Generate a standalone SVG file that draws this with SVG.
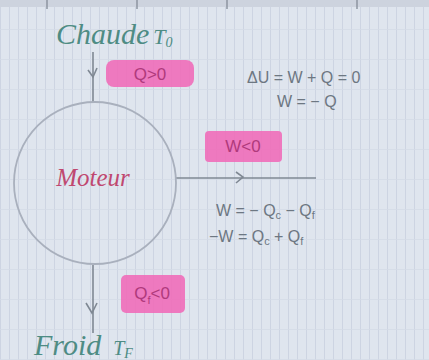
<svg xmlns="http://www.w3.org/2000/svg" width="429" height="360" viewBox="0 0 429 360">
<defs>
<pattern id="grid" width="9" height="30" patternUnits="userSpaceOnUse">
<rect width="9" height="30" fill="#dfe5ee"/>
<line x1="0.5" y1="0" x2="0.5" y2="30" stroke="#cdd4e2" stroke-width="1"/>
<line x1="0" y1="29.5" x2="9" y2="29.5" stroke="#d4dae6" stroke-width="0.8"/>
</pattern>
</defs>
<style>
.hand{font-family:"Liberation Serif",serif;font-style:italic}
.teal{fill:#4e8c84}
.pinktxt{fill:#c04870}
.hl{fill:#ef6db9;opacity:0.9}
.hltxt{font-family:"Liberation Sans",sans-serif;fill:#b03a7c;font-size:17px}
.eq{font-family:"Liberation Sans",sans-serif;fill:#6d7782;font-size:16px}
.line{stroke:#7f8893;stroke-width:1.6;fill:none}
</style>
<rect width="429" height="360" fill="url(#grid)"/>
<rect x="0" y="0" width="429" height="7" fill="#cdd3de"/>
<g stroke="#8c94a0" stroke-width="1.5">
<line x1="47" y1="0" x2="47" y2="9"/>
<line x1="137" y1="0" x2="137" y2="9"/>
<line x1="227" y1="0" x2="227" y2="9"/>
<line x1="357" y1="0" x2="357" y2="9"/>
</g>
<g id="connectors">
<line class="line" x1="93" y1="52" x2="93" y2="102"/>
<path class="line" d="M88,70 L93,77 L97,68"/>
<line class="line" x1="175" y1="178" x2="316" y2="178"/>
<path class="line" d="M236,172 L243,177 L236,183"/>
<line class="line" x1="93" y1="265" x2="93" y2="333"/>
<path class="line" d="M86,303 L92,313 L97,303"/>
</g>
<g id="chaude">
<text class="hand teal" x="56" y="44" font-size="30">Chaude<tspan font-size="22" dx="4">T<tspan font-size="14" dy="3">0</tspan></tspan></text>
</g>
<g id="q-label">
<rect class="hl" x="106" y="60" width="88" height="27" rx="8"/>
<text class="hltxt" x="150" y="80" text-anchor="middle">Q&gt;0</text>
</g>
<g id="moteur">
<circle cx="95" cy="183" r="81" fill="none" stroke="#a9b0bd" stroke-width="1.8"/>
<text class="hand pinktxt" x="93" y="186" font-size="25" text-anchor="middle">Moteur</text>
</g>
<g id="energy">
<text class="eq" x="247" y="83">ΔU = W + Q = 0</text>
<text class="eq" x="277" y="107">W = − Q</text>
</g>
<g id="w-label">
<rect class="hl" x="205" y="131" width="77" height="31" rx="4"/>
<text class="hltxt" x="243" y="152" text-anchor="middle">W&lt;0</text>
</g>
<g id="work-eq">
<text class="eq" x="216" y="216">W = − Q<tspan font-size="11" dy="3">c</tspan><tspan dy="-3"> − Q</tspan><tspan font-size="11" dy="3">f</tspan></text>
<text class="eq" x="209" y="242">−W = Q<tspan font-size="11" dy="3">c</tspan><tspan dy="-3"> + Q</tspan><tspan font-size="11" dy="3">f</tspan></text>
</g>
<g id="qf-label">
<rect class="hl" x="121" y="275" width="64" height="38" rx="5"/>
<text class="hltxt" x="152" y="299" text-anchor="middle">Q<tspan font-size="11" dy="5">f</tspan><tspan dy="-5">&lt;0</tspan></text>
</g>
<g id="froid">
<text class="hand teal" x="34" y="355" font-size="30">Froid<tspan font-size="20" dx="12">T<tspan font-size="14" dy="3">F</tspan></tspan></text>
</g>
</svg>
